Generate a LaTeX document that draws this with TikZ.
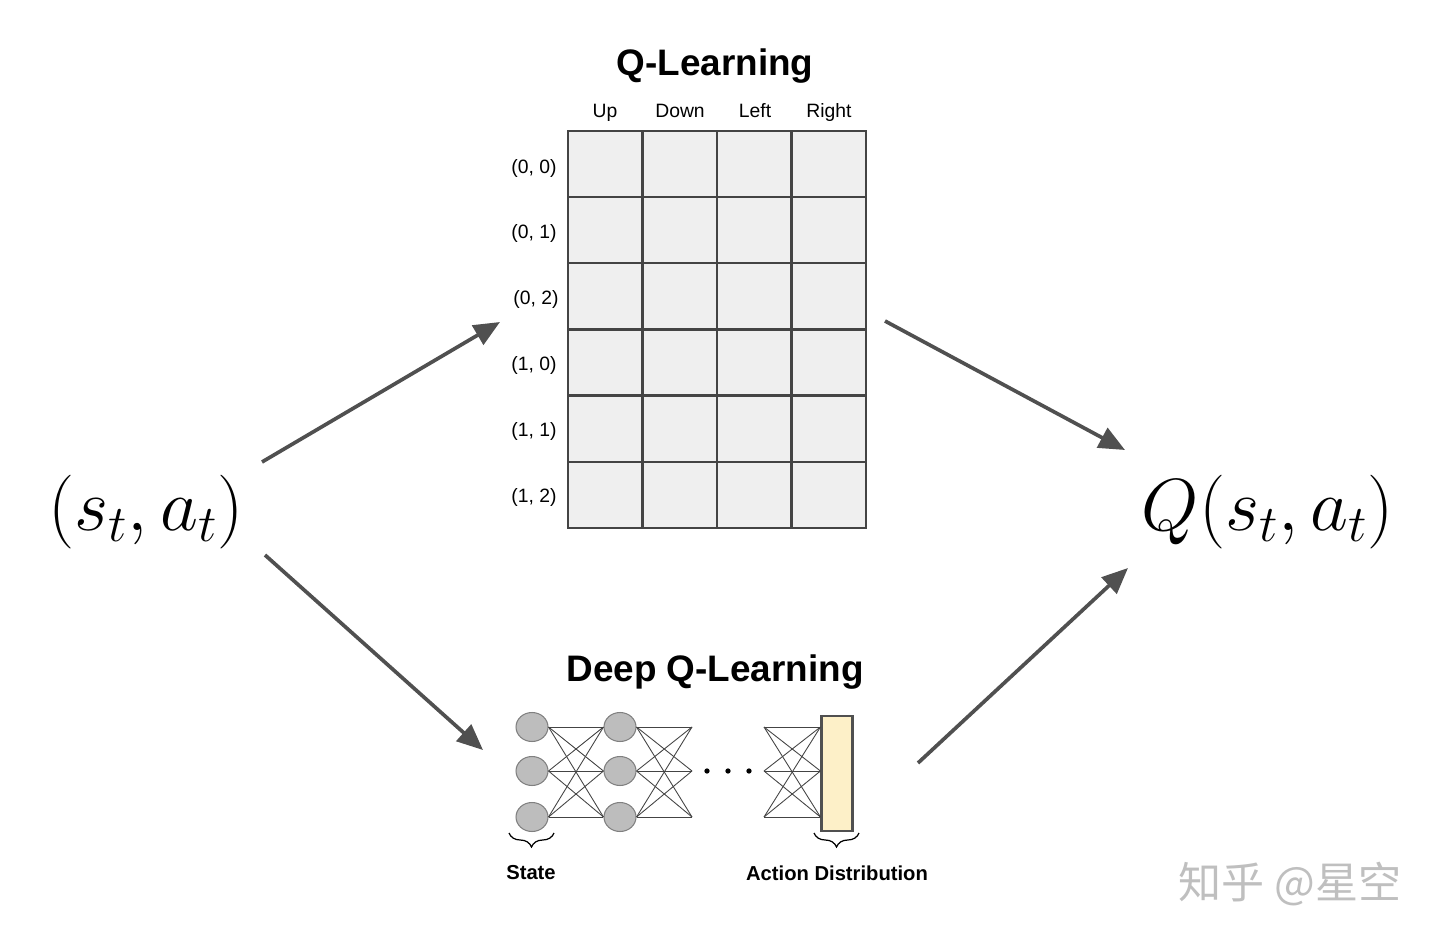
\documentclass[tikz,border=0pt]{standalone}
\usepackage{fix-cm}
\usepackage{fontspec}
\setmainfont{Liberation Sans}
\newfontfamily\cjkfont{Noto Sans CJK SC}
\usepackage{tikz}
\usetikzlibrary{positioning, arrows.meta, shapes.geometric, decorations.pathreplacing}

\definecolor{arrowgray}{HTML}{505050}
\definecolor{gridgray}{HTML}{444444}
\definecolor{cellgray}{HTML}{EFEFEF}
\definecolor{neurongray}{HTML}{BDBDBD}
\definecolor{barcream}{HTML}{FDF0C8}
\definecolor{markgray}{HTML}{BFBFBF}

\begin{document}
\begin{tikzpicture}[
    x=0.02cm, y=-0.02cm,
    >={Triangle[length=0.52cm, width=0.44cm]},
    flow/.style={->, line width=2.1pt, arrowgray},
    title/.style={font=\fontsize{21}{25}\selectfont\bfseries},
    head/.style={font=\fontsize{11}{13}\selectfont, text height=8pt, text depth=2.5pt},
    caption/.style={font=\fontsize{11.5}{14}\selectfont\bfseries},
    formula/.style={font=\fontsize{42}{50}\selectfont},
    neuron/.style={
        ellipse, draw=gray, fill=neurongray, line width=0.6pt,
        minimum width=0.64cm, minimum height=0.58cm, inner sep=0
    },
    wire/.style={line width=0.5pt, gridgray},
    brace/.style={decorate, decoration={brace, mirror, amplitude=0.28cm}, line width=0.7pt}
]
\useasboundingbox (0,0) rectangle (1440,942);

% ---- Inputs and outputs ----
\node[formula] (sa) at (146,512) {$(s_t, a_t)$};
\node[formula] (qsa) at (1268,512) {$Q(s_t, a_t)$};

% ---- Q-Learning table ----
\node[title] (qtitle) at (715,66) {Q-Learning};

\draw[fill=cellgray, draw=gridgray, line width=1.2pt] (568,131) rectangle (866,528);
\foreach \x in {642.5, 717, 791.5}
    \draw[gridgray, line width=1.2pt] (\x,131) -- (\x,528);
\foreach \y in {197, 263, 329.5, 395.5, 462}
    \draw[gridgray, line width=1.2pt] (568,\y) -- (866,\y);

% column heads
\node[head] (up) at (605,113) {Up};
\node[head] (down) at (680,113) {Down};
\node[head] (left) at (755,113) {Left};
\node[head] (right) at (829,113) {Right};

% row heads
\node[head] (s00) at (534,169) {(0, 0)};
\node[head] (s01) at (534,234) {(0, 1)};
\node[head] (s02) at (536,300) {(0, 2)};
\node[head] (s10) at (534,366) {(1, 0)};
\node[head] (s11) at (534,432) {(1, 1)};
\node[head] (s12) at (534,498) {(1, 2)};

% ---- Deep Q-Learning network ----
\node[title] (dqtitle) at (715,672) {Deep Q-Learning};

\node[neuron] (a1) at (532,727) {};
\node[neuron] (a2) at (532,771) {};
\node[neuron] (a3) at (532,817) {};
\node[neuron] (b1) at (620,727) {};
\node[neuron] (b2) at (620,771) {};
\node[neuron] (b3) at (620,817) {};

\coordinate (f1) at (692,727);
\coordinate (f2) at (692,771);
\coordinate (f3) at (692,817);
\coordinate (g1) at (764,727);
\coordinate (g2) at (764,771);
\coordinate (g3) at (764,817);

\node[draw=arrowgray, fill=barcream, line width=1.2pt,
      minimum width=0.62cm, minimum height=2.3cm, inner sep=0]
    (bar) at (837,773.5) {};

\foreach \i in {1,2,3}
    \foreach \j in {1,2,3} {
        \draw[wire] (a\i.east) -- (b\j.west);
        \draw[wire] (b\i.east) -- (f\j);
        \draw[wire] (g\i) -- (bar.west |- g\j);
    }

% dots
\fill (707,771) circle (1.5pt);
\fill (728,771) circle (1.5pt);
\fill (749,771) circle (1.5pt);

% braces
\draw[brace] (509,833) -- (554,833);
\draw[brace] (814,833) -- (859,833);

\node[caption] (state) at (531,873) {State};
\node[caption] (actdist) at (837,873) {Action Distribution};

% ---- Arrows ----
\coordinate (up-start) at (262,462);
\coordinate (up-end) at (500,322);
\coordinate (table-start) at (885,321);
\coordinate (table-end) at (1125,450);
\coordinate (down-start) at (265,555);
\coordinate (down-end) at (483,750);
\coordinate (net-start) at (918,763);
\coordinate (net-end) at (1128,568);

\draw[flow] (up-start) -- (up-end);
\draw[flow] (table-start) -- (table-end);
\draw[flow] (down-start) -- (down-end);
\draw[flow] (net-start) -- (net-end);

% watermark
\node[markgray, font=\cjkfont\fontsize{24.5}{29}\selectfont] (mark) at (1290,884) {知乎 @星空};

\end{tikzpicture}
\end{document}
